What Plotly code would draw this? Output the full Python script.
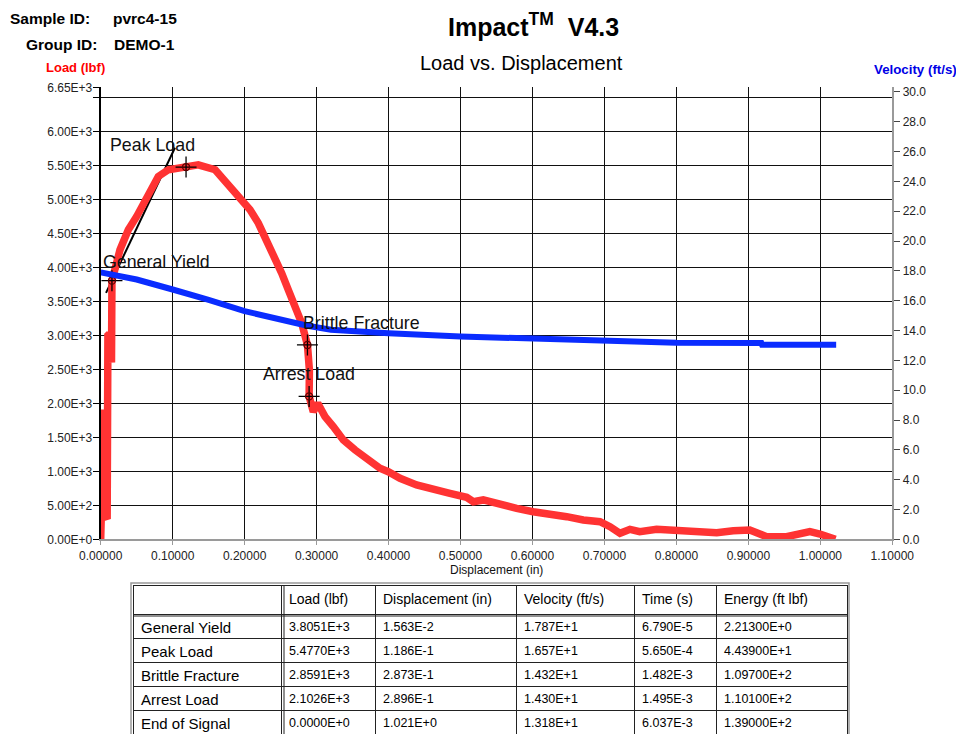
import plotly.graph_objects as go

# ---------------- data ----------------
disp_load = [0.0, 0.003, 0.0045, 0.006, 0.009, 0.010, 0.012, 0.0150, 0.01563,
             0.0268, 0.0384, 0.050, 0.0616, 0.0685, 0.080, 0.094, 0.1186, 0.1356,
             0.159, 0.175, 0.1936, 0.2075, 0.219, 0.2306, 0.2422, 0.2515, 0.2607,
             0.270, 0.2793, 0.2873, 0.2900, 0.2896, 0.2954, 0.3016, 0.3117, 0.3232,
             0.3371, 0.3534, 0.3696, 0.388, 0.3996, 0.4159, 0.439, 0.4621, 0.4853,
             0.5085, 0.5178, 0.5316, 0.5548, 0.578, 0.601, 0.6243, 0.6475, 0.6706,
             0.6938, 0.7077, 0.7216, 0.7355, 0.749, 0.7725, 0.8003, 0.8335, 0.856,
             0.879, 0.902, 0.916, 0.9254, 0.953, 0.9717, 0.9855, 0.9995, 1.0134, 1.021]
load_lbf = [0, 1900, 1910, 330, 340, 3000, 3020, 2600, 3805,
            4259, 4553, 4750, 4996, 5142, 5338, 5437, 5477, 5510,
            5437, 5241, 5044, 4848, 4652, 4406, 4160, 3916, 3670,
            3424, 3180, 2859, 2492, 2103, 1878, 2002, 1805, 1658,
            1462, 1315, 1192, 1045, 995, 898, 799, 726, 677,
            618, 553, 579, 505, 456, 406, 383, 333, 284,
            259, 185, 88, 147, 112, 147, 127, 112, 97,
            127, 137, 78, 38, 38, 88, 112, 78, 38, 0]

disp_vel = [0.0, 0.02, 0.05, 0.10, 0.1186, 0.15, 0.20, 0.25, 0.2873, 0.32, 0.35,
            0.40, 0.50, 0.60, 0.70, 0.80, 0.918, 0.919, 1.022]
velocity_fts = [17.9, 17.72, 17.42, 16.75, 16.5, 16.05, 15.3, 14.7, 14.32, 14.05, 13.95,
                13.82, 13.6, 13.43, 13.3, 13.18, 13.16, 13.04, 13.04]

event_names = ["General Yield", "Peak Load", "Brittle Fracture", "Arrest Load", "End of Signal"]
event_load = ["3.8051E+3", "5.4770E+3", "2.8591E+3", "2.1026E+3", "0.0000E+0"]
event_disp = ["1.563E-2", "1.186E-1", "2.873E-1", "2.896E-1", "1.021E+0"]
event_vel = ["1.787E+1", "1.657E+1", "1.432E+1", "1.430E+1", "1.318E+1"]
event_time = ["6.790E-5", "5.650E-4", "1.482E-3", "1.495E-3", "6.037E-3"]
event_energy = ["2.21300E+0", "4.43900E+1", "1.09700E+2", "1.10100E+2", "1.39000E+2"]
table_header = ["", "Load (lbf)", "Displacement (in)", "Velocity (ft/s)", "Time (s)", "Energy (ft lbf)"]

marker_names = event_names[:4]
marker_x = [float(v) for v in event_disp[:4]]
marker_y = [float(v) for v in event_load[:4]]
label_x = [0.0005, 0.0095, 0.2785, 0.2230]
label_y = [4078, 5805, 3189, 2433]
leader_x = [0.0074, 0.1032]
leader_y = [3626, 5760]

x_ticks = [i / 10 for i in range(12)]
x_ticktext = ["%.5f" % v for v in x_ticks]
y_ticks = [i * 500 for i in range(14)] + [6650]
y_ticktext = ["0.00E+0", "5.00E+2", "1.00E+3", "1.50E+3", "2.00E+3", "2.50E+3", "3.00E+3",
              "3.50E+3", "4.00E+3", "4.50E+3", "5.00E+3", "5.50E+3", "6.00E+3", "", "6.65E+3"]
y2_ticks = [i * 2 for i in range(16)]
y2_ticktext = ["%.1f" % v for v in y2_ticks]

# ---------------- layout geometry ----------------
# the page body has an 8px margin, so the figure starts at (8, 8)
OFF = 8
W, H = 964 - OFF, 734 - OFF
px = lambda x: (x - OFF) / W
py = lambda y: 1 - (y - OFF) / H

FONT = "Arial, Liberation Sans, sans-serif"

fig = go.Figure()

# leader line (mostly hidden beneath the load curve)
fig.add_trace(go.Scatter(x=leader_x, y=leader_y, mode="lines",
                         line=dict(color="black", width=2), hoverinfo="skip", showlegend=False))
# velocity curve
fig.add_trace(go.Scatter(x=disp_vel, y=velocity_fts, yaxis="y2", mode="lines",
                         line=dict(color="#0a2cff", width=6), showlegend=False))
# load curve
fig.add_trace(go.Scatter(x=disp_load, y=load_lbf, mode="lines",
                         line=dict(color="#ff3333", width=7.5), showlegend=False))
# event markers
fig.add_trace(go.Scatter(x=marker_x, y=marker_y, mode="markers",
                         marker=dict(symbol="cross-thin-open", size=15, color="black",
                                     line=dict(color="black", width=1.3)),
                         showlegend=False, hoverinfo="skip"))
fig.add_trace(go.Scatter(x=marker_x, y=marker_y, mode="markers",
                         marker=dict(symbol="circle-open", size=7, color="#5a0000",
                                     line=dict(color="#5a0000", width=1.3)),
                         showlegend=False, hovertext=marker_names))

# table
fig.add_trace(go.Table(
    domain=dict(x=[px(133), px(847)], y=[0, py(585)]),
    columnwidth=[148, 94, 141, 118, 82, 131],
    header=dict(values=table_header, height=29, align="left",
                fill_color="white", line=dict(color="#222", width=1),
                font=dict(family=FONT, size=14, color="black")),
    cells=dict(values=[event_names, event_load, event_disp, event_vel, event_time, event_energy],
               height=24, align="left", fill_color="white",
               line=dict(color="#222", width=1),
               font=dict(family=FONT, size=[15, 12.5, 12.5, 12.5, 12.5, 12.5], color="black")),
))

annotations = []
for name, lx, ly in zip(marker_names, label_x, label_y):
    annotations.append(dict(x=lx, y=ly, xref="x", yref="y", text=name, showarrow=False,
                            xanchor="left", yanchor="middle",
                            font=dict(family=FONT, size=17.8, color="#111")))

annotations += [
    dict(x=px(533), y=py(25), text="Impact<sup>TM</sup>  V4.3", font=dict(family=FONT, size=25, color="black", weight="bold")),
    dict(x=px(521), y=py(63), text="Load vs. Displacement", font=dict(family=FONT, size=20, color="black")),
    dict(x=px(8), y=py(19), text="Sample ID:", xanchor="left", font=dict(family=FONT, size=15.5, color="black", weight="bold")),
    dict(x=px(111), y=py(19), text="pvrc4-15", xanchor="left", font=dict(family=FONT, size=15.5, color="black", weight="bold")),
    dict(x=px(24), y=py(44), text="Group ID:", xanchor="left", font=dict(family=FONT, size=15.5, color="black", weight="bold")),
    dict(x=px(112), y=py(44), text="DEMO-1", xanchor="left", font=dict(family=FONT, size=15.5, color="black", weight="bold")),
    dict(x=px(44), y=py(68), text="Load (lbf)", xanchor="left", font=dict(family=FONT, size=13, color="#ff0000", weight="bold")),
    dict(x=px(872), y=py(70), text="Velocity (ft/s)", xanchor="left", font=dict(family=FONT, size=13.3, color="#0000e6", weight="bold")),
    dict(x=px(496.5), y=py(570), text="Displacement (in)", font=dict(family=FONT, size=12, color="#111")),
]
for a in annotations:
    a.setdefault("xref", "paper")
    a.setdefault("yref", "paper")
    a.setdefault("showarrow", False)
    a.setdefault("yanchor", "middle")

shapes = [
    # table double-line accents
    dict(type="rect", xref="paper", yref="paper", x0=px(131), x1=px(849), y0=py(740), y1=py(583),
         line=dict(color="#999", width=1.5)),
    dict(type="line", xref="paper", yref="paper", x0=px(133), x1=px(847), y0=py(616), y1=py(616),
         line=dict(color="#222", width=1)),
    dict(type="line", xref="paper", yref="paper", x0=px(284), x1=px(284), y0=py(585), y1=py(740),
         line=dict(color="#222", width=1)),
]

fig.update_layout(
    width=W, height=H,
    margin=dict(l=0, r=0, t=0, b=0, autoexpand=False),
    paper_bgcolor="white", plot_bgcolor="white",
    showlegend=False,
    annotations=annotations,
    shapes=shapes,
    xaxis=dict(domain=[px(100.7), px(892.3)], range=[0, 1.1], tickvals=x_ticks, ticktext=x_ticktext,
               showgrid=True, gridcolor="#111", gridwidth=1, zeroline=False, automargin=False,
               showline=True, linecolor="#9a9a9a", linewidth=2,
               ticks="outside", ticklen=4, tickcolor="#9a9a9a",
               tickfont=dict(family=FONT, size=12, color="#222"), anchor="y"),
    yaxis=dict(domain=[py(539.3), py(87.3)], range=[0, 6650], tickvals=y_ticks, ticktext=y_ticktext,
               showgrid=True, gridcolor="#111", gridwidth=1, zeroline=False, automargin=False,
               showline=True, linecolor="black", linewidth=2,
               ticks="outside", ticklen=6, tickcolor="black", ticklabelstandoff=-2,
               tickfont=dict(family=FONT, size=12, color="#222")),
    yaxis2=dict(overlaying="y", side="right", range=[0, 30.31], tickvals=y2_ticks, ticktext=y2_ticktext,
                showgrid=False, zeroline=False, showline=True, linecolor="#9a9a9a", linewidth=2,
                automargin=False,
                ticks="outside", ticklen=6, tickcolor="#444",
                tickfont=dict(family=FONT, size=12, color="#222"), anchor="x"),
)

fig.write_html("out.html")
